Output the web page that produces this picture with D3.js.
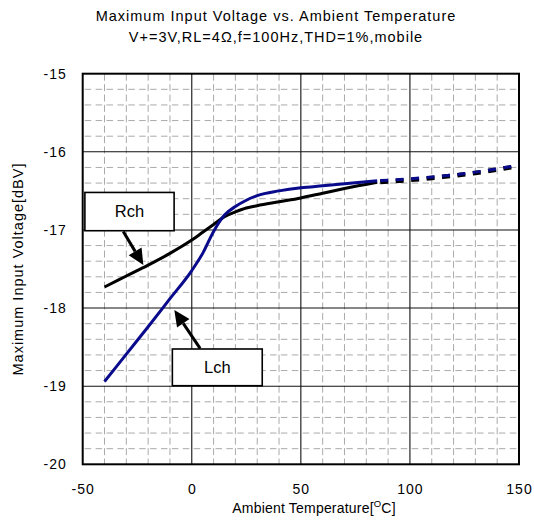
<!DOCTYPE html>
<html>
<head>
<meta charset="utf-8">
<script src="https://cdn.jsdelivr.net/npm/d3@7"></script>
<style>
  body { margin: 0; background: #fff; }
  svg { display: block; }
  text { font-family: "Liberation Sans", Arial, sans-serif; fill: #000; }
</style>
</head>
<body>
<svg id="chart" width="534" height="521"></svg>
<script>
// Measured maximum input voltage (dBV) against ambient temperature (°C)
const titleLines = ["Maximum Input Voltage vs. Ambient Temperature", "V+=3V,RL=4\u03A9,f=100Hz,THD=1%,mobile"];
const temps = [-40, -30, -20, -10, 0, 5, 10, 15, 20, 25, 30, 40, 50, 60, 70, 85];
const rch = [-17.73, -17.59, -17.45, -17.30, -17.13, -17.03, -16.93, -16.83, -16.77, -16.72, -16.69, -16.64, -16.59, -16.53, -16.47, -16.39];
const lch = [-18.94, -18.59, -18.24, -17.88, -17.52, -17.30, -17.02, -16.81, -16.70, -16.62, -16.56, -16.50, -16.46, -16.435, -16.41, -16.37];
// Extrapolated range (dotted)
const extTemps = [85, 100, 115, 130, 150];
const rchExt = [-16.39, -16.36, -16.32, -16.27, -16.18];
const lchExt = [-16.37, -16.345, -16.31, -16.26, -16.17];
const xTicks = [-50, 0, 50, 100, 150];
const yTicks = [-15, -16, -17, -18, -19, -20];
const xLabel = "Ambient Temperature[";
const yLabel = "Maximum Input Voltage[dBV]";
const seriesNames = ["Rch", "Lch"];

const svg = d3.select("#chart");
const plotL = 82.7, plotR = 519, plotT = 73.7, plotB = 464.3;

const x = d3.scaleLinear().domain([-50, 150]).range([plotL, plotR]);
const y = d3.scaleLinear().domain([-20, -15]).range([plotB, plotT]);

// Titles
svg.selectAll("text.title").data(titleLines).join("text")
  .attr("class", "title")
  .attr("x", 276).attr("y", (d, i) => 21 + i * 21)
  .attr("text-anchor", "middle")
  .attr("font-size", 14.5)
  .attr("letter-spacing", 1)
  .text(d => d);

// Minor grid (dashed gray)
const minorX = d3.range(-40, 150, 10).filter(v => v % 50 !== 0);
const minorY = d3.range(-19.8, -15.05, 0.2).map(v => +v.toFixed(1)).filter(v => Math.abs(v - Math.round(v)) > 1e-6);

const grid = svg.append("g");
grid.selectAll("line.mx").data(minorX).join("line")
  .attr("x1", d => x(d)).attr("x2", d => x(d))
  .attr("y1", plotT).attr("y2", plotB)
  .attr("stroke", "#aaa").attr("stroke-width", 1)
  .attr("stroke-dasharray", "7,3.4");
grid.selectAll("line.my").data(minorY).join("line")
  .attr("x1", plotL).attr("x2", plotR)
  .attr("y1", d => y(d)).attr("y2", d => y(d))
  .attr("stroke", "#aaa").attr("stroke-width", 1)
  .attr("stroke-dasharray", "6.5,4.4")
  .attr("stroke-dashoffset", -2);

// Major grid
grid.selectAll("line.MX").data(xTicks.slice(1, -1)).join("line")
  .attr("x1", d => x(d)).attr("x2", d => x(d))
  .attr("y1", plotT).attr("y2", plotB)
  .attr("stroke", "#111").attr("stroke-width", 1.1);
grid.selectAll("line.MY").data(yTicks.slice(1, -1)).join("line")
  .attr("x1", plotL).attr("x2", plotR)
  .attr("y1", d => y(d)).attr("y2", d => y(d))
  .attr("stroke", "#111").attr("stroke-width", 1.1);

// Frame
svg.append("rect")
  .attr("x", plotL).attr("y", plotT)
  .attr("width", plotR - plotL).attr("height", plotB - plotT)
  .attr("fill", "none").attr("stroke", "#000").attr("stroke-width", 2);

// Axes tick labels (plain hyphen for the minus sign)
const fmt = d => String(d);
const xAxis = d3.axisBottom(x).tickValues(xTicks).tickSize(0).tickPadding(0).tickFormat(fmt);
const gx = svg.append("g").attr("transform", `translate(0,${plotB + 20})`).call(xAxis);
gx.select(".domain").remove();
gx.selectAll("text").attr("font-size", 14).attr("font-family", null).attr("fill", "#000")
  .attr("letter-spacing", 1).attr("dy", "0.71em");

const yAxis = d3.axisLeft(y).tickValues(yTicks).tickSize(0).tickPadding(0).tickFormat(fmt);
const gy = svg.append("g").attr("transform", `translate(${plotL - 16},0)`).call(yAxis);
gy.select(".domain").remove();
gy.selectAll("text").attr("font-size", 14).attr("font-family", null).attr("fill", "#000")
  .attr("letter-spacing", 1);

// Axis titles
const xt = svg.append("text")
  .attr("x", 314).attr("y", 513)
  .attr("text-anchor", "middle")
  .attr("font-size", 14)
  .attr("letter-spacing", 0.2);
xt.append("tspan").text(xLabel);
xt.append("tspan").attr("font-size", 9.5).attr("dy", -6).text("O");
xt.append("tspan").attr("dy", 6).text("C]");

svg.append("text")
  .attr("transform", `translate(23,${(plotT + plotB) / 2}) rotate(-90)`)
  .attr("text-anchor", "middle")
  .attr("font-size", 14.5)
  .attr("letter-spacing", 1)
  .text(yLabel);

// Series lines
const line = d3.line().x(d => x(d[0])).y(d => y(d[1])).curve(d3.curveMonotoneX);
const rchPts = temps.map((t, i) => [t, rch[i]]);
const lchPts = temps.map((t, i) => [t, lch[i]]);

svg.append("path").datum(rchPts).attr("d", line)
  .attr("fill", "none").attr("stroke", "#000").attr("stroke-width", 3).attr("stroke-linejoin", "round");
svg.append("path").datum(lchPts).attr("d", line)
  .attr("fill", "none").attr("stroke", "#0a0a8c").attr("stroke-width", 3).attr("stroke-linejoin", "round");

// Extrapolation, dotted
svg.append("path").datum(extTemps.map((t, i) => [t, rchExt[i]])).attr("d", line)
  .attr("fill", "none").attr("stroke", "#000").attr("stroke-width", 4.5)
  .attr("stroke-dasharray", "8,7.5").attr("stroke-dashoffset", 12.5);
svg.append("path").datum(extTemps.map((t, i) => [t, lchExt[i]])).attr("d", line)
  .attr("fill", "none").attr("stroke", "#0a0a8c").attr("stroke-width", 3)
  .attr("stroke-dasharray", "8,7.5").attr("stroke-dashoffset", 12.5);

// Callouts: labelled box and arrow pointing at each trace
const callouts = [
  { name: seriesNames[0], box: [-49, -8.1, -16.52, -17.01], tail: [-31.4, -17.02], tip: [-22.2, -17.45] },
  { name: seriesNames[1], box: [-8.9, 32.3, -18.524, -18.994], tail: [3.8, -18.515], tip: [-8.0, -18.025] }
];

callouts.forEach(c => {
  const g = svg.append("g");
  const bx0 = x(c.box[0]), bx1 = x(c.box[1]), by0 = y(c.box[2]), by1 = y(c.box[3]);
  g.append("rect")
    .attr("x", bx0).attr("y", by0).attr("width", bx1 - bx0).attr("height", by1 - by0)
    .attr("fill", "#fff").attr("stroke", "#000").attr("stroke-width", 1.6);
  g.append("text")
    .attr("x", (bx0 + bx1) / 2).attr("y", (by0 + by1) / 2 + 5.5)
    .attr("text-anchor", "middle").attr("font-size", 16.5)
    .text(c.name);
  const tx = x(c.tail[0]), ty = y(c.tail[1]), px = x(c.tip[0]), py = y(c.tip[1]);
  const ang = Math.atan2(py - ty, px - tx);
  const headLen = 16, headW = 7.5;
  const bxh = px - headLen * Math.cos(ang), byh = py - headLen * Math.sin(ang);
  g.append("line")
    .attr("x1", tx).attr("y1", ty).attr("x2", bxh).attr("y2", byh)
    .attr("stroke", "#000").attr("stroke-width", 3);
  const nx = -Math.sin(ang), ny = Math.cos(ang);
  g.append("polygon")
    .attr("points", [[px, py], [bxh + nx * headW, byh + ny * headW], [bxh - nx * headW, byh - ny * headW]].map(p => p.join(",")).join(" "))
    .attr("fill", "#000");
});
</script>
</body>
</html>
